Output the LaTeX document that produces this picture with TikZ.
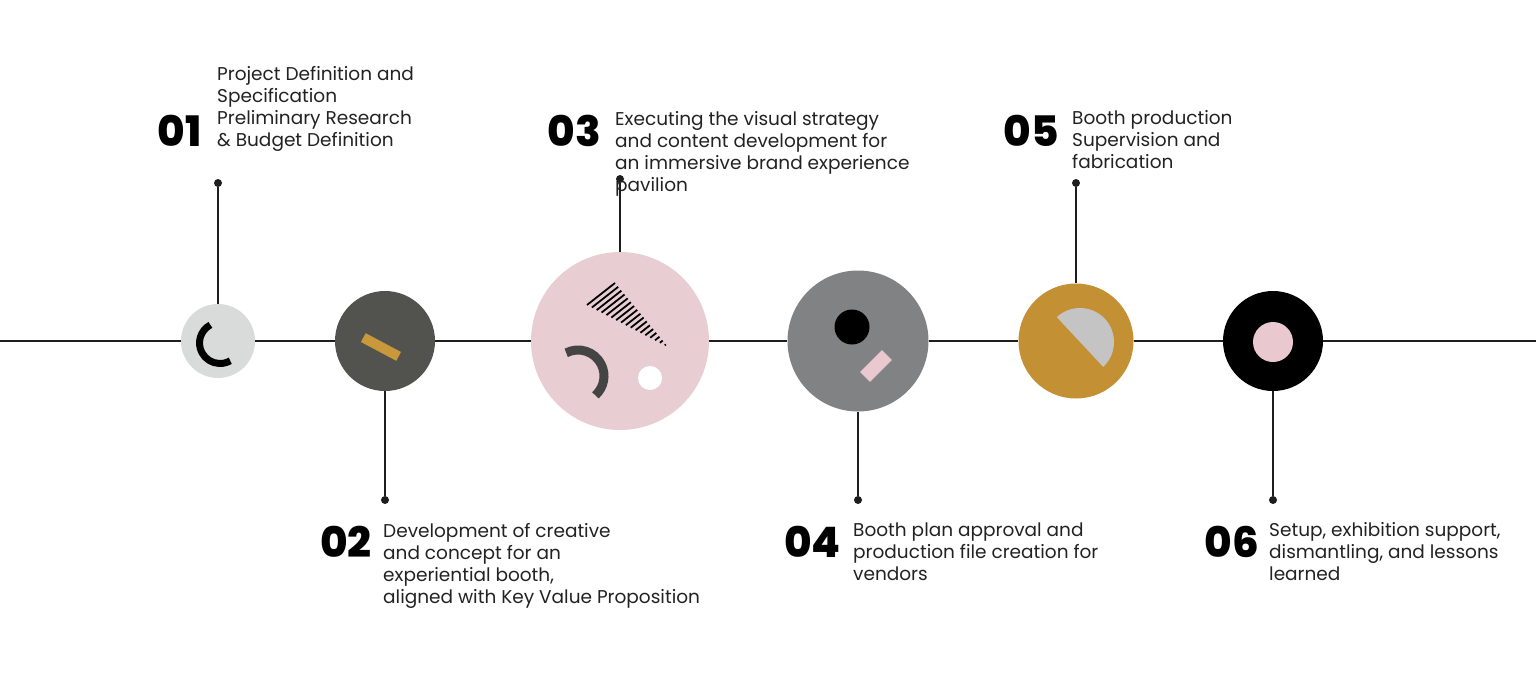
\documentclass[tikz,border=0pt]{standalone}
\usepackage{fontspec}
\setmainfont{Poppins}
\IfFontExistsTF{Poppins ExtraBold}{\newfontfamily\numfont{Poppins ExtraBold}}{\newcommand\numfont{\bfseries}}
\usetikzlibrary{calc}
\definecolor{linegray}{HTML}{1E1E1E}
\definecolor{textgray}{HTML}{222222}
\definecolor{palegray}{HTML}{D8DBDA}
\definecolor{slate}{HTML}{52534F}
\definecolor{blush}{HTML}{E8CDD3}
\definecolor{steel}{HTML}{808284}
\definecolor{ochre}{HTML}{C39034}
\definecolor{bargold}{HTML}{C9983A}
\definecolor{silver}{HTML}{C4C4C4}
\definecolor{rose}{HTML}{E9C9CF}
\definecolor{charcoal}{HTML}{444444}

\begin{document}
\begin{tikzpicture}[x=1pt,y=-1pt,
    disc/.style={circle,inner sep=0pt,minimum size=#1},
    knob/.style={circle,fill=linegray,inner sep=0pt,minimum size=8pt},
    stem/.style={draw=linegray,line width=1.4pt},
    num/.style={anchor=base east,inner sep=0pt,font=\fontsize{42}{42}\selectfont\numfont},
    desc/.style={anchor=base west,inner sep=0pt,align=left,text=textgray,font=\fontsize{18.5}{22}\selectfont}]
      \useasboundingbox (0,0) rectangle (1536,685);

      \coordinate (lft) at (0,341);
      \coordinate (rgt) at (1536,341);

      \node (c1) at (218,341) [disc=74pt,fill=palegray]{};
      \node (c2) at (385,341) [disc=100pt,fill=slate]{};
      \node (c3) at (620,341) [disc=178pt,fill=blush]{};
      \node (c4) at (858,341) [disc=141pt,fill=steel]{};
      \node (c5) at (1076,341) [disc=115pt,fill=ochre]{};
      \node (c6) at (1273,341) [disc=100pt,fill=black]{};

      \draw[stem] (lft) -- (c1) -- (c2) -- (c3) -- (c4) -- (c5) -- (c6) -- (rgt);

      \draw[line width=7pt] ([shift={(-118:20.5)}]220,343) arc[start angle=-118,end angle=-300,radius=20.5];

      \node (bar) at (381,347) [rectangle,fill=bargold,minimum width=40pt,minimum height=10pt,inner sep=0pt,rotate=-28]{};

      \coordinate (ta) at (587,305);
      \coordinate (tb) at (615,283);
      \coordinate (tc) at (668,347);
      \foreach \t in {0,0.06,...,0.97}
        \draw[line width=1.8pt] ($(ta)!\t!(tc)$) -- ($(tb)!\t!(tc)$);
      \draw[line width=9pt,color=charcoal] ([shift={(-117:26)}]578,376) arc[start angle=-117,end angle=48,radius=26];
      \node (hole) at (650,378) [disc=24pt,fill=white]{};

      \node (eye) at (852,327) [disc=35pt,fill=black]{};
      \node (chip) at (876,366) [rectangle,fill=rose,minimum width=31pt,minimum height=14pt,inner sep=0pt,rotate=45]{};

      \fill[silver] ([shift={(-133:34)}]1080,342) arc[start angle=-133,end angle=47,radius=34] -- cycle;

      \node (core) at (1273,342) [disc=40pt,fill=rose]{};

      \node (n1) at (202,146) [num]{01};
      \node (t1) at (217,146) [desc]{Project Definition and\\Specification\\Preliminary Research\\\& Budget Definition};
      \node (n3) at (601,146) [num]{03};
      \node (t3) at (615,191) [desc]{Executing the visual strategy\\and content development for\\an immersive brand experience\\pavilion};
      \node (n5) at (1059,146) [num]{05};
      \node (t5) at (1072,168) [desc]{Booth production\\Supervision and\\fabrication};
      \node (n2) at (372,557) [num]{02};
      \node (t2) at (383,603) [desc]{Development of creative\\and concept for an\\experiential booth,\\aligned with Key Value Proposition};
      \node (n4) at (841,557) [num]{04};
      \node (t4) at (853,580) [desc]{Booth plan approval and\\production file creation for\\vendors};
      \node (n6) at (1259,557) [num]{06};
      \node (t6) at (1269,580) [desc]{Setup, exhibition support,\\dismantling, and lessons\\learned};

      \node (d1) at (218,183) [knob]{};
      \node (d3) at (620,179) [knob]{};
      \node (d5) at (1076,183) [knob]{};
      \node (d2) at (385,500) [knob]{};
      \node (d4) at (858,500) [knob]{};
      \node (d6) at (1273,500) [knob]{};

      \draw[stem] (d1) -- (c1);
      \draw[stem] (d3) -- (c3);
      \draw[stem] (d5) -- (c5);
      \draw[stem] (c2) -- (d2);
      \draw[stem] (c4) -- (d4);
      \draw[stem] (c6) -- (d6);
    \end{tikzpicture}
\end{document}
